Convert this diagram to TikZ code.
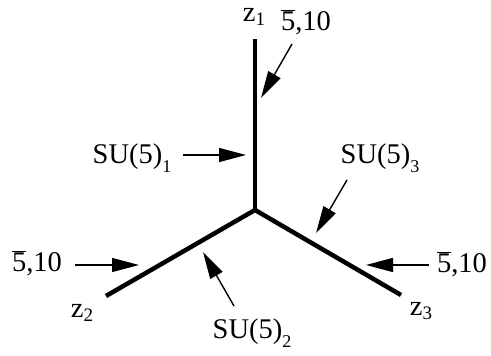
\documentclass[tikz,border=0pt]{standalone}
\usepackage{fontspec}
\setmainfont{Liberation Serif}
\usetikzlibrary{arrows.meta}
\newcommand{\lowsub}[1]{\raisebox{-0.32em}{\fontsize{18}{18}\selectfont #1}}
\newcommand{\zsub}[1]{\raisebox{-0.12em}{\fontsize{19}{19}\selectfont #1}}
\newcommand{\fivebar}{$\overline{\mbox{5}}$,10}
\begin{document}
\begin{tikzpicture}[x=1pt,y=-1pt,
  brane/.style={line width=4.5pt},
  pointer/.style={line width=1.4pt,-{Triangle[length=27pt,width=14pt]}},
  lab/.style={inner sep=0pt,font=\fontsize{28.5}{32}\selectfont}]
\useasboundingbox (0,0) rectangle (491,356);
% brane lines
\coordinate (c) at (255,210);
\coordinate (e1) at (255,39);
\coordinate (e2) at (106,296);
\coordinate (e3) at (401,295);
\draw[brane] (c) -- (e1);
\draw[brane] (c) -- (e2);
\draw[brane] (c) -- (e3);
% labels
\node[lab] (z1) at (254,17) {z\zsub{1}};
\node[lab] (z2) at (82,313) {z\zsub{2}};
\node[lab] (z3) at (421,311) {z\zsub{3}};
\node[lab] (f1) at (306,22) {\fivebar};
\node[lab] (f2) at (37,263) {\fivebar};
\node[lab] (f3) at (462,264) {\fivebar};
\node[lab] (s1) at (132,158) {SU(5)\lowsub{1}};
\node[lab] (s2) at (252,333) {SU(5)\lowsub{2}};
\node[lab] (s3) at (380,158) {SU(5)\lowsub{3}};
% arrow ends
\coordinate (f1t) at (292,44);  \coordinate (f1h) at (261,98);
\coordinate (f2t) at (75,265);  \coordinate (f2h) at (139,265);
\coordinate (f3t) at (429,265); \coordinate (f3h) at (366,265);
\coordinate (s1t) at (183,155); \coordinate (s1h) at (246,155);
\coordinate (s2t) at (234,306); \coordinate (s2h) at (203,252);
\coordinate (s3t) at (347,180); \coordinate (s3h) at (316,233);
\draw[pointer] (f1t) -- (f1h);
\draw[pointer] (f2t) -- (f2h);
\draw[pointer] (f3t) -- (f3h);
\draw[pointer] (s1t) -- (s1h);
\draw[pointer] (s2t) -- (s2h);
\draw[pointer] (s3t) -- (s3h);
\end{tikzpicture}
\end{document}
